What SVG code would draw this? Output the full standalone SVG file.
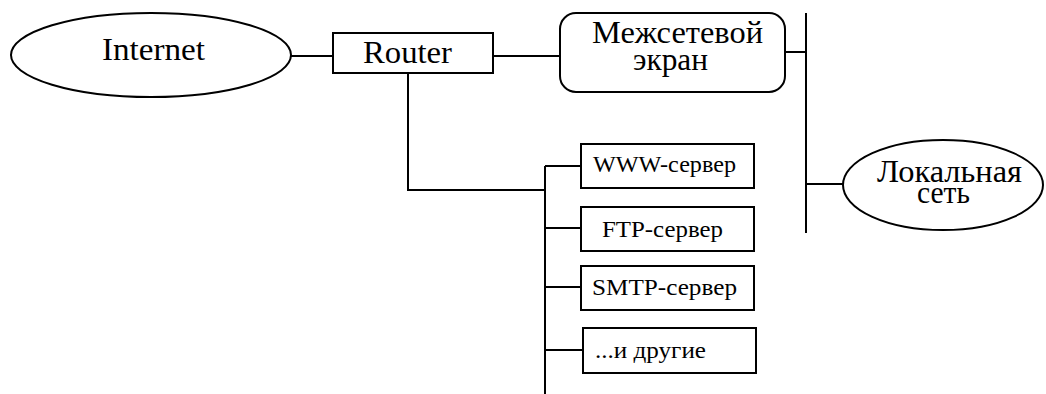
<svg xmlns="http://www.w3.org/2000/svg" width="1046" height="394" viewBox="0 0 1046 394">
  <style>
    .shape { fill: #ffffff; stroke: #000000; stroke-width: 2; }
    .wire { fill: none; stroke: #000000; stroke-width: 2; }
    .lbl { font-family: 'Liberation Serif', 'Times New Roman', serif; fill: #000000; text-anchor: middle; }
    .big { font-size: 31px; }
    .small { font-size: 23px; }
  </style>

  <rect width="1046" height="394" fill="#ffffff"/>

  <!-- connectors -->
  <g id="connectors" class="wire">
    <path d="M291 56 H333"/>
    <path d="M493 56 H560"/>
    <path d="M785 52 H806"/>
    <path d="M806 13 V233"/>
    <path d="M806 184 H843"/>
    <path d="M408 73 V190 H545"/>
    <path d="M545 166 V394"/>
    <path d="M545 166 H581"/>
    <path d="M545 228 H581"/>
    <path d="M545 287 H581"/>
    <path d="M545 350 H583"/>
  </g>

  <g id="internet">
    <ellipse class="shape" cx="151" cy="55" rx="140" ry="42"/>
    <text class="lbl big" x="153.5" y="60" textLength="103" lengthAdjust="spacingAndGlyphs">Internet</text>
  </g>

  <g id="router">
    <rect class="shape" x="333" y="33" width="160" height="40"/>
    <text class="lbl big" x="407.5" y="63" textLength="89" lengthAdjust="spacingAndGlyphs">Router</text>
  </g>

  <g id="firewall">
    <rect class="shape" x="560" y="13" width="225" height="79" rx="16" ry="16"/>
    <text class="lbl big" x="677.5" y="43" textLength="171" lengthAdjust="spacingAndGlyphs">Межсетевой</text>
    <text class="lbl big" x="670.5" y="70" textLength="75" lengthAdjust="spacingAndGlyphs">экран</text>
  </g>

  <g id="lan">
    <ellipse class="shape" cx="943" cy="185" rx="100" ry="45"/>
    <text class="lbl big" x="949.5" y="182" textLength="145" lengthAdjust="spacingAndGlyphs">Локальная</text>
    <text class="lbl big" x="943.5" y="203" textLength="53" lengthAdjust="spacingAndGlyphs">сеть</text>
  </g>

  <g id="www-server">
    <rect class="shape" x="581" y="144" width="173" height="44"/>
    <text class="lbl small" x="664.5" y="172" textLength="143" lengthAdjust="spacingAndGlyphs">WWW-сервер</text>
  </g>

  <g id="ftp-server">
    <rect class="shape" x="581" y="207" width="173" height="44"/>
    <text class="lbl small" x="662.5" y="237" textLength="121" lengthAdjust="spacingAndGlyphs">FTP-сервер</text>
  </g>

  <g id="smtp-server">
    <rect class="shape" x="581" y="266" width="173" height="44"/>
    <text class="lbl small" x="664.5" y="295" textLength="145" lengthAdjust="spacingAndGlyphs">SMTP-сервер</text>
  </g>

  <g id="others">
    <rect class="shape" x="583" y="328" width="173" height="45"/>
    <text class="lbl small" x="650.5" y="358" textLength="111" lengthAdjust="spacingAndGlyphs">...и другие</text>
  </g>
</svg>
